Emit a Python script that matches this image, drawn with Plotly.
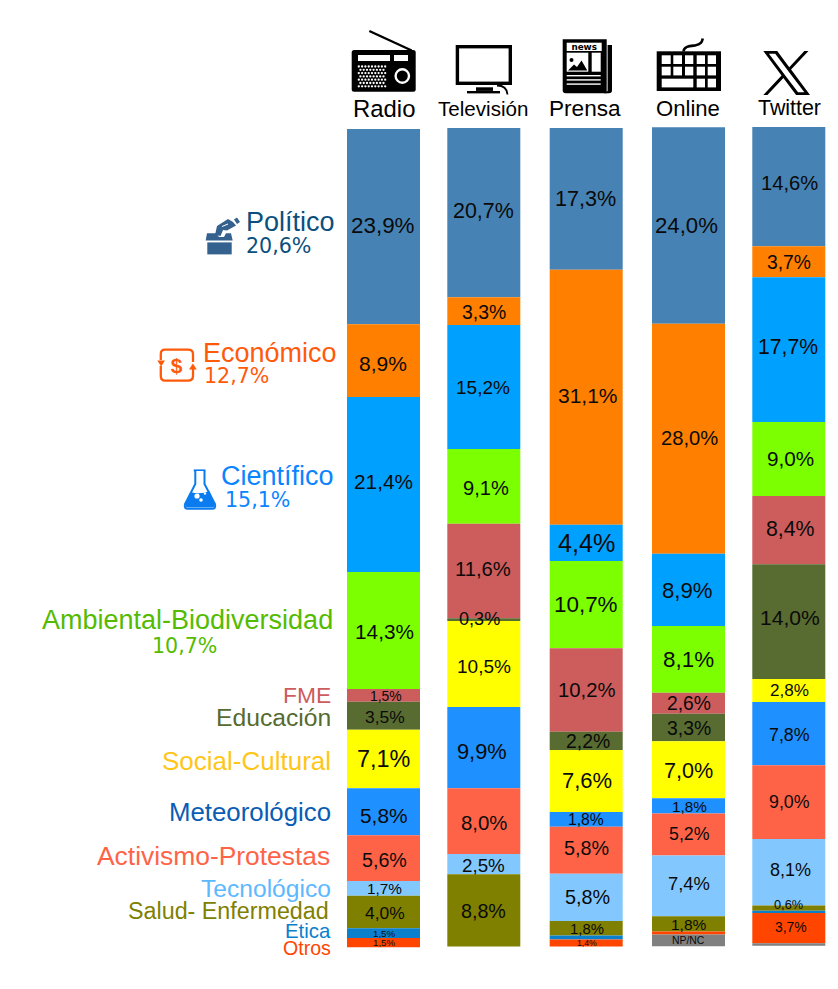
import base64
import numpy as np
import plotly.graph_objects as go

# ---------- data (percent of each medium's coverage) ----------
media = ["Radio", "Televisión", "Prensa", "Online", "Twitter"]
categories = ["Político", "Económico", "Científico", "Ambiental-Biodiversidad", "FME", "Educación",
              "Social-Cultural", "Meteorológico", "Activismo-Protestas", "Tecnológico",
              "Salud- Enfermedad", "Ética", "Otros", "NP/NC"]

politico = [23.87, 20.69, 17.32, 24.00, 14.58]
economico = [8.88, 3.39, 31.16, 28.11, 3.79]
cientifico = [21.39, 15.15, 4.44, 8.84, 17.68]
ambiental = [14.30, 9.13, 10.67, 8.15, 9.04]
fme = [1.55, 11.56, 10.19, 2.57, 8.35]
educacion = [3.42, 0.33, 2.24, 3.34, 14.02]
social = [7.16, 10.51, 7.58, 6.97, 2.81]
meteorologico = [5.74, 9.94, 1.80, 1.87, 7.74]
activismo = [5.58, 8.03, 5.74, 5.13, 9.01]
tecnologico = [1.80, 2.48, 5.78, 7.42, 8.10]
salud = [3.98, 8.80, 1.75, 1.87, 0.66]
etica = [1.19, 0.0, 0.49, 0.0, 0.28]
otros = [1.14, 0.0, 0.86, 0.37, 3.70]
npnc = [0.0, 0.0, 0.0, 1.43, 0.29]

politico_txt = ["23,9%", "20,7%", "17,3%", "24,0%", "14,6%"]
economico_txt = ["8,9%", "3,3%", "31,1%", "28,0%", "3,7%"]
cientifico_txt = ["21,4%", "15,2%", "4,4%", "8,9%", "17,7%"]
ambiental_txt = ["14,3%", "9,1%", "10,7%", "8,1%", "9,0%"]
fme_txt = ["1,5%", "11,6%", "10,2%", "2,6%", "8,4%"]
educacion_txt = ["3,5%", "0,3%", "2,2%", "3,3%", "14,0%"]
social_txt = ["7,1%", "10,5%", "7,6%", "7,0%", "2,8%"]
meteorologico_txt = ["5,8%", "9,9%", "1,8%", "1,8%", "7,8%"]
activismo_txt = ["5,6%", "8,0%", "5,8%", "5,2%", "9,0%"]
tecnologico_txt = ["1,7%", "2,5%", "5,8%", "7,4%", "8,1%"]
salud_txt = ["4,0%", "8,8%", "1,8%", "1,8%", "0,6%"]
etica_txt = ["1,5%", "", "", "", ""]
otros_txt = ["1,5%", "", "1,4%", "", "3,7%"]
npnc_txt = ["", "", "", "NP/NC", ""]

overall_share = {"Político": "20,6%", "Económico": "12,7%", "Científico": "15,1%",
                 "Ambiental-Biodiversidad": "10,7%"}

series = [politico, economico, cientifico, ambiental, fme, educacion, social, meteorologico,
          activismo, tecnologico, salud, etica, otros, npnc]
series_txt = [politico_txt, economico_txt, cientifico_txt, ambiental_txt, fme_txt, educacion_txt,
              social_txt, meteorologico_txt, activismo_txt, tecnologico_txt, salud_txt, etica_txt,
              otros_txt, npnc_txt]

# ---------- styles and layout ----------
W, H = 838, 989
SANS = "Liberation Sans, Arial, sans-serif"
bar_colors = ["#4682B4", "#FF7F00", "#00A0FF", "#7CFF00", "#CD5C5C", "#586B30", "#FFFF00",
              "#1E90FF", "#FF6347", "#82C8FF", "#808000", "#0A80CC", "#FF4500", "#808080"]
label_sizes = [
    [22.4, 21.4, 21.6, 22.2, 20.2],
    [21, 19.4, 21, 20.2, 19.3],
    [20.8, 19, 25.2, 22.2, 21.2],
    [20.8, 20.1, 22.4, 22.4, 20.7],
    [13.9, 20.2, 20.3, 19.3, 21.3],
    [17.4, 18.1, 19.4, 19.4, 21.1],
    [23.4, 19, 22, 21.6, 17.1],
    [20.9, 21.8, 15.7, 15.3, 17.8],
    [19.7, 20.4, 19.8, 17.8, 17.8],
    [15.3, 18.8, 19.8, 18.4, 18],
    [17.4, 19.7, 14.9, 15.5, 12.8],
    [9.7, 9, 9, 9, 9],
    [9.7, 9, 8.7, 9, 13.9],
    [9, 9, 9, 10.4, 9],
]
# horizontal / vertical nudges of each value label from the segment centre, in pixels
label_dx = [
    [-1.0, -0.6, -1.0, -1.7, 0.2],
    [-0.8, 0.4, 1.3, 0.8, 0.0],
    [-0.5, -0.8, -0.2, -1.3, -1.0],
    [1.0, 2.0, 0.0, 0.2, 1.7],
    [2.2, -0.8, 0.6, 0.7, 1.7],
    [1.0, -4.1, 1.5, 0.3, 1.2],
    [0.2, -0.1, 0.5, 0.0, 0.4],
    [0.5, -1.5, -0.4, 0.5, 0.5],
    [0.8, -0.1, 0.0, 0.8, 0.5],
    [1.0, -0.1, 1.6, 0.2, 1.7],
    [1.0, -0.8, 0.5, 0.5, -0.1],
    [0.7, 0, 0, 0, 0],
    [0.7, 0, 0.8, 0, 2.2],
    [0, 0, 0, 0.0, 0],
]
label_dy = [
    [-1.3, -2.0, -0.5, 0.2, -4.0],
    [3.0, 1.0, -1.5, -0.7, 0.9],
    [-2.8, 0.3, 0.3, 0.2, -3.6],
    [0.5, 2.0, -0.7, 0.0, -0.7],
    [0.4, -2.0, 0.0, 0.5, -1.5],
    [1.6, -0.4, 0.1, 1.0, -4.0],
    [0.0, 2.7, -0.7, 0.5, 0.2],
    [3.9, 4.0, 0.0, 0.6, 1.3],
    [2.0, 1.7, -2.0, 0.0, 0.1],
    [0.4, 0.8, 0.0, -2.0, -2.0],
    [1.3, 0.7, 0.5, 0.3, -3.7],
    [0.3, 0, 0, 0, 0],
    [0.3, 0, 0.2, 0, -1.2],
    [0, 0, 0, 0.1, 0],
]
bar_x = [383.5, 483.8, 586.2, 688.5, 788.8]
bar_w = 73
stack_top = [0.12, 0.0, 0.0, -0.08, -0.12]
PX_PER_PCT = 8.183
Y0 = 128.0


def py(px):
    return 1 - px / H


fig = go.Figure()
annotations = []
base = np.array(stack_top, dtype=float)
for name, vals, col, txt, sizes, dxs, dys in zip(categories, series, bar_colors, series_txt,
                                                  label_sizes, label_dx, label_dy):
    vals = np.array(vals)
    fig.add_trace(go.Bar(
        x=bar_x, y=vals, base=base.copy(), width=bar_w, name=name,
        marker=dict(color=col, line=dict(width=0)),
        hoverinfo="name+y",
    ))
    for x, b, v, t, s, dx, dy in zip(bar_x, base, vals, txt, sizes, dxs, dys):
        if t:
            annotations.append(dict(text=t, x=x, y=b + v / 2, xref="x", yref="y", xshift=dx, yshift=-dy,
                                    showarrow=False, xanchor="center", yanchor="middle",
                                    font=dict(family=SANS, size=s, color="#0A0A0A"),
                                    borderpad=0, borderwidth=0))
    base = base + vals


def note(text, x, y, size, color, anchor="right", family=SANS):
    annotations.append(dict(text=text, x=x, y=py(y), xref="x", yref="paper", showarrow=False,
                            xanchor=anchor, yanchor="middle", align=anchor,
                            font=dict(family=family, size=size, color=color),
                            borderpad=0, borderwidth=0))


# media headers
media_pos = [(383.5, 108, 23.9), (483, 109, 20.6), (585.3, 109, 22.6), (688, 109, 22.1), (789, 108, 21.4)]
for m, (x, y, s) in zip(media, media_pos):
    note(m, x, y, s, "#000000", anchor="center")

# category labels on the left
cat_style = [
    ("Político", 334.5, 222, 27, "#0B4F7E"),
    ("Económico", 336.5, 353, 27, "#FF5A0A"),
    ("Científico", 333.5, 476, 27, "#0A84FF"),
    ("Ambiental-Biodiversidad", 333, 620, 27, "#55BB00"),
    ("FME", 330.5, 695, 22.8, "#CD5C5C"),
    ("Educación", 330.5, 717, 24.7, "#556B2F"),
    ("Social-Cultural", 330.5, 761, 26, "#FFC61A"),
    ("Meteorológico", 330.5, 812, 25.8, "#0A5CB5"),
    ("Activismo-Protestas", 330, 856, 26.4, "#FF6347"),
    ("Tecnológico", 330.5, 888, 24.6, "#5CB8FF"),
    ("Salud- Enfermedad", 328.5, 911, 23.3, "#808000"),
    ("Ética", 330.5, 931, 20.4, "#0A80CC"),
    ("Otros", 330.5, 948, 19.6, "#FF4500"),
]
for c, x, y, s, col in cat_style:
    note(c, x, y, s, col)

share_pos = {"Político": (245.5, 246, "#0B4F7E"), "Económico": (203.5, 376, "#FF5A0A"),
             "Científico": (224.5, 500, "#0A84FF"), "Ambiental-Biodiversidad": (151.5, 646, "#55BB00")}
for c, (x, y, col) in share_pos.items():
    note(overall_share[c], x, y, 20.6, col, anchor="left", family="DejaVu Sans")


# ---------- icons ----------
def icon(body, x0, y0, x1, y1):
    svg = (f'<svg xmlns="http://www.w3.org/2000/svg" width="{x1-x0}" height="{y1-y0}" '
           f'viewBox="{x0} {y0} {x1-x0} {y1-y0}" preserveAspectRatio="none">{body}</svg>')
    src = "data:image/svg+xml;base64," + base64.b64encode(svg.encode()).decode()
    return dict(source=src, xref="x", yref="paper", x=x0, y=py(y0), sizex=x1 - x0, sizey=(y1 - y0) / H,
                xanchor="left", yanchor="top", sizing="stretch", layer="above")


# radio
dots = "".join(f'<circle cx="{358.8 + 3.3 * i + (1.6 if j % 2 else 0):.1f}" cy="{66.5 + 3.3 * j:.1f}" r="1.15" fill="#fff"/>'
               for j in range(7) for i in range(8 if j % 2 else 9))
radio = ('<path d="M369.3 31 L411.7 50.5" stroke="#000" stroke-width="2.4"/>'
         '<rect x="351.7" y="50" width="64" height="41.7" rx="2.5" fill="#000"/>'
         '<rect x="358" y="55" width="32" height="6" fill="#fff"/>'
         '<rect x="394" y="55" width="14" height="6" fill="#fff"/>'
         + dots +
         '<circle cx="402.3" cy="76" r="6.7" fill="none" stroke="#fff" stroke-width="2.4"/>')
# television
tv = ('<rect x="457.4" y="46.7" width="52.9" height="36.6" fill="#fff" stroke="#000" stroke-width="3.4"/>'
      '<rect x="476" y="87.3" width="17" height="3.6" fill="#000"/>'
      '<rect x="467" y="91" width="33" height="2.4" fill="#000"/>'
      '<path d="M497 85.5 C503 85.5 507 88 507.5 94.5" fill="none" stroke="#000" stroke-width="1.8"/>')
# newspaper
news = ('<path d="M562.7 39.3 H606.7 V93.3 H565.7 Q562.7 93.3 562.7 90.3 Z" fill="#000"/>'
        '<path d="M607.6 45 H612 V90.3 Q612 93.3 609 93.3 H604 L607.6 91 Z" fill="#000"/>'
        '<rect x="566.7" y="42.7" width="35" height="8.3" fill="#fff"/>'
        '<text x="584.2" y="49.8" font-family="DejaVu Sans" font-weight="bold" font-size="8.8" '
        'text-anchor="middle" fill="#000">news</text>'
        '<rect x="566.7" y="52.7" width="21.6" height="19" fill="#fff"/>'
        '<rect x="591.7" y="52.7" width="9" height="19" fill="#fff"/>'
        '<circle cx="571.5" cy="60" r="2" fill="#000"/>'
        '<path d="M568 70.5 L574 64.5 L577 67 L581.5 60.5 L587.3 70.5 Z" fill="#000"/>'
        '<rect x="566.7" y="75" width="34" height="1.4" fill="#fff"/>'
        '<rect x="566.7" y="79.2" width="34" height="1.4" fill="#fff"/>'
        '<rect x="566.7" y="83.4" width="34" height="1.4" fill="#fff"/>')
# keyboard
key_cols = [(661.7, 9), (673.3, 8.7), (685, 8.3), (696.7, 8.3), (707.7, 8.3)]
key_rows = [55.3, 66.7]
keys = "".join(f'<rect x="{x}" y="{y}" width="{w}" height="8.7" fill="#fff"/>' for y in key_rows for x, w in key_cols)
keys += ('<rect x="661.7" y="78.7" width="31.6" height="8.7" fill="#fff"/>'
         '<rect x="696.7" y="78.7" width="8.3" height="8.7" fill="#fff"/>'
         '<rect x="707.7" y="78.7" width="8.3" height="8.7" fill="#fff"/>')
keyboard = ('<path d="M683.5 51.5 C684 46 690 46 695 45.5 C701 44.5 702 42 702.8 38.5" fill="none" '
            'stroke="#000" stroke-width="2.6"/>'
            '<rect x="656.7" y="51.3" width="64.3" height="39.7" fill="#000"/>' + keys)
# X logo
x_logo = ('<g transform="translate(763.3 51) scale(0.03892 0.03585)">'
          '<path fill="#000" d="M714.163 519.284L1160.89 0H1055.03L667.137 450.887L357.328 0H0L468.492 681.821L0 '
          '1226.37H105.866L515.491 750.218L842.672 1226.37H1200L714.137 519.284H714.163ZM569.165 687.828L521.697 '
          '619.934L144.011 79.6944H306.615L611.412 515.685L658.88 583.579L1055.08 1150.3H892.476L569.165 '
          '687.854V687.828Z"/></g>')
# ballot box
ballot = ('<path d="M207 233.3 H216 L219 237 H224 L226 233.3 H231 L232.7 240.6 H205.7 Z" fill="#35618F"/>'
          '<rect x="207.3" y="242.4" width="24.4" height="12" fill="#35618F"/>'
          '<path d="M215 235 L217 226 L228 219 L233 222 L236 225.5 L227 230.5 L223 230 L220.5 236 Z" fill="#35618F"/>'
          '<path d="M234 219.5 L237 217.6 L240 222 L237 224 Z" fill="#35618F"/>'
          '<path d="M222 226.5 L228 224" stroke="#fff" stroke-width="1"/>')
# currency cycle
ORANGE = "#FF5A0A"
currency = (f'<path d="M160.8 360 V354 Q160.8 349.6 165 349.6 H188 Q193 349.6 193 354 V362" fill="none" stroke="{ORANGE}" stroke-width="2.3"/>'
            f'<path d="M160.8 366 V376 Q160.8 380.6 165 380.6 H188 Q193 380.6 193 376 V369" fill="none" stroke="{ORANGE}" stroke-width="2.3"/>'
            f'<path d="M157.3 360.5 H165 L161.1 366.5 Z" fill="{ORANGE}"/>'
            f'<path d="M189 369.5 H196.7 L192.9 363.5 Z" fill="{ORANGE}"/>'
            f'<text x="176.7" y="372.5" font-family="Liberation Sans" font-weight="bold" font-size="21" '
            f'text-anchor="middle" fill="{ORANGE}">$</text>')
# flask
BLUE = "#0A7CF0"
flask = (f'<path d="M193.8 470.5 H205.5" stroke="{BLUE}" stroke-width="2.2"/>'
         f'<path d="M195.3 471 V484 L185 504 Q183.8 508.8 188 508.8 H212 Q216.2 508.8 215 504 L204.5 484 V471" '
         f'fill="#fff" stroke="{BLUE}" stroke-width="2"/>'
         f'<path d="M190.5 492 Q200 495 209.5 491 L214.5 504 Q215 507.5 212 507.5 H188 Q185 507.5 185.5 504 Z" fill="{BLUE}"/>'
         '<circle cx="197" cy="496" r="2.6" fill="#fff"/><circle cx="201" cy="500" r="1.8" fill="#fff"/>'
         '<circle cx="205" cy="493.5" r="1.2" fill="#fff"/>')

images = [
    icon(radio, 350, 29, 418, 93),
    icon(tv, 454, 43, 514, 97),
    icon(news, 561, 38, 614, 95),
    icon(keyboard, 655, 36, 723, 93),
    icon(x_logo, 762, 50, 812, 96),
    icon(ballot, 204, 216, 242, 256),
    icon(currency, 156, 347, 198, 383),
    icon(flask, 182, 468, 218, 511),
]

fig.update_layout(
    width=W, height=H, autosize=False, barmode="overlay", showlegend=False,
    margin=dict(l=0, r=0, t=0, b=0, pad=0),
    paper_bgcolor="#FFFFFF", plot_bgcolor="#FFFFFF",
    annotations=annotations, images=images,
    xaxis=dict(range=[0, W], visible=False, fixedrange=True),
    yaxis=dict(range=[(H - Y0) / PX_PER_PCT, -Y0 / PX_PER_PCT], visible=False, fixedrange=True),
)

fig.write_html("out.html", post_script="document.body.style.margin='0';",
               config={"displayModeBar": False})
